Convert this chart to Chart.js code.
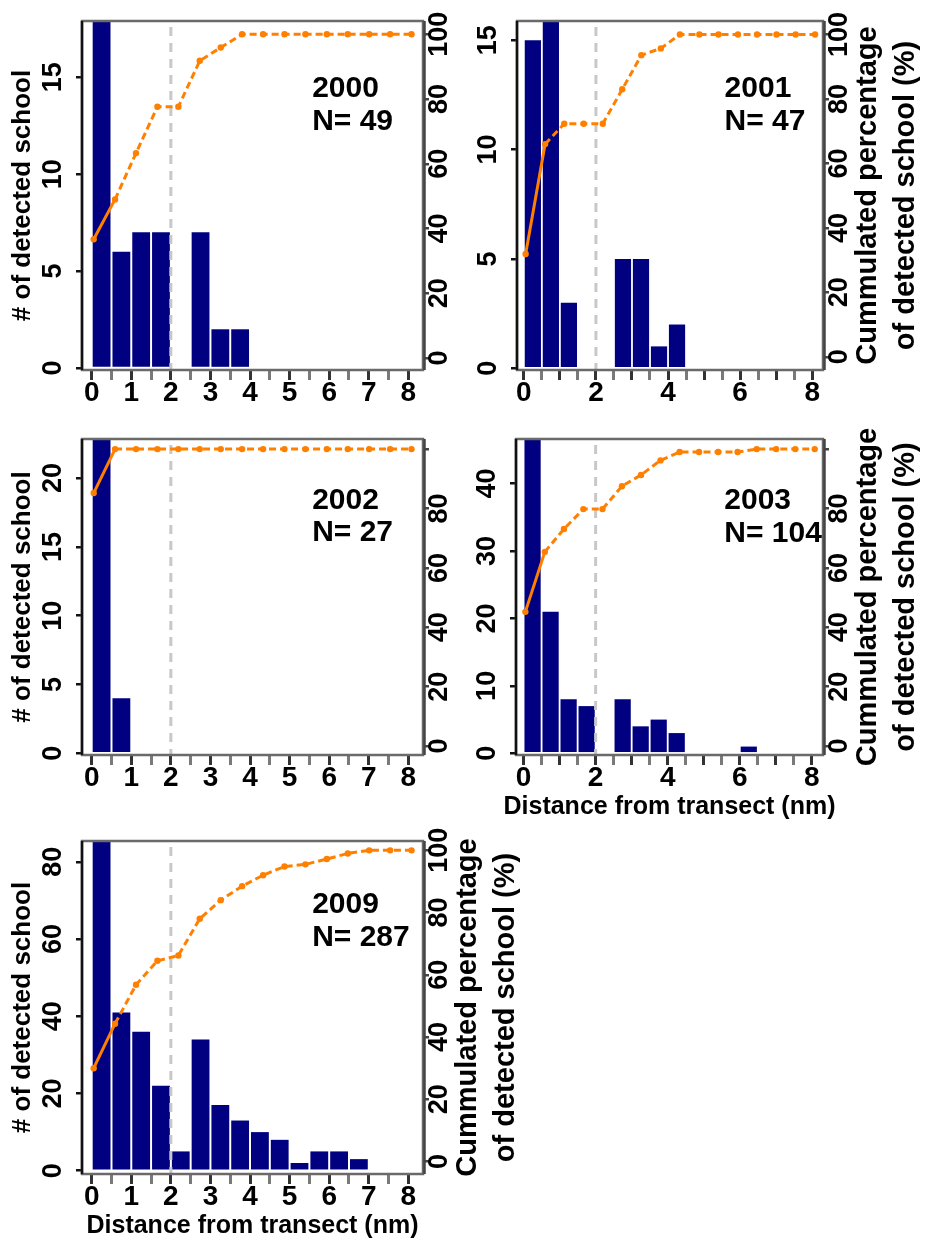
<!DOCTYPE html>
<html>
<head>
<meta charset="utf-8">
<script src="https://cdn.jsdelivr.net/npm/chart.js@4.4.1/dist/chart.umd.min.js"></script>
<style>
  html, body { margin: 0; padding: 0; background: #fff; }
  body { width: 925px; height: 1242px; position: relative; overflow: hidden; }
  canvas { position: absolute; }
</style>
</head>
<body>
<canvas id="c2000" width="462" height="410" style="left:0px;top:0px"></canvas>
<canvas id="c2001" width="463" height="410" style="left:462px;top:0px"></canvas>
<canvas id="c2002" width="462" height="410" style="left:0px;top:410px"></canvas>
<canvas id="c2003" width="463" height="410" style="left:462px;top:410px"></canvas>
<canvas id="c2009" width="525" height="422" style="left:0px;top:820px"></canvas>
<script>
// ============================
// Data
// ============================
// half-nm distance bins (bar centres) and where the cumulated points sit
const distanceBins = [0.25, 0.75, 1.25, 1.75, 2.25, 2.75, 3.25, 3.75, 4.25, 4.75, 5.25, 5.75, 6.25, 6.75, 7.25, 7.75];
const cumulX = [0.05, 0.59, 1.12, 1.66, 2.19, 2.73, 3.26, 3.8, 4.33, 4.87, 5.4, 5.94, 6.47, 7.01, 7.54, 8.08];
const transectLimit = 2;

const years = ["2000", "2001", "2002", "2003", "2009"];
const schoolTotals = [49, 47, 27, 104, 287];

const counts2000 = [18, 6, 7, 7, 0, 7, 2, 2, 0, 0, 0, 0, 0, 0, 0, 0];
const counts2001 = [15, 16, 3, 0, 0, 5, 5, 1, 2, 0, 0, 0, 0, 0, 0, 0];
const counts2002 = [23, 4, 0, 0, 0, 0, 0, 0, 0, 0, 0, 0, 0, 0, 0, 0];
const counts2003 = [47, 21, 8, 7, 0, 8, 4, 5, 3, 0, 0, 0, 1, 0, 0, 0];
const counts2009 = [86, 41, 36, 22, 5, 34, 17, 13, 10, 8, 2, 5, 5, 3, 0, 0];

const cumul2000 = [36.7, 49.0, 63.3, 77.6, 77.6, 91.8, 95.9, 100, 100, 100, 100, 100, 100, 100, 100, 100];
const cumul2001 = [31.9, 66.0, 72.3, 72.3, 72.3, 83.0, 93.6, 95.7, 100, 100, 100, 100, 100, 100, 100, 100];
const cumul2002 = [85.2, 100, 100, 100, 100, 100, 100, 100, 100, 100, 100, 100, 100, 100, 100, 100];
const cumul2003 = [45.2, 65.4, 73.1, 79.8, 79.8, 87.5, 91.3, 96.2, 99.0, 99.0, 99.0, 99.0, 100, 100, 100, 100];
const cumul2009 = [30.0, 44.3, 56.8, 64.5, 66.2, 78.0, 84.0, 88.5, 92.0, 94.8, 95.5, 97.2, 99.0, 100, 100, 100];

// tick values / labels
const xTickValues = [0, 0.5, 1, 1.5, 2, 2.5, 3, 3.5, 4, 4.5, 5, 5.5, 6, 6.5, 7, 7.5, 8];
const xLabelsAll = [0, 1, 2, 3, 4, 5, 6, 7, 8];
const xLabelsEven = [0, 2, 4, 6, 8];
const schoolTicks2000 = [0, 5, 10, 15];
const schoolTicks2001 = [0, 5, 10, 15];
const schoolTicks2002 = [0, 5, 10, 15, 20];
const schoolTicks2003 = [0, 10, 20, 30, 40];
const schoolTicks2009 = [0, 20, 40, 60, 80];
const pctTicks = [0, 20, 40, 60, 80, 100];
const pctLabelsFull = ["0", "20", "40", "60", "80", "100"];
const pctLabelsNoTop = ["0", "20", "40", "60", "80", ""];

const leftTitle = "# of detected school";
const rightTitle = ["Cummulated percentage", "of detected school (%)"];
const xTitle = "Distance from transect (nm)";

// ============================
// Panel layout
// ============================
const FONT = '"Liberation Sans", Arial, sans-serif';
const ORANGE = "#FF8000";
const NAVY = "#000080";

const panels = [
    { id: "c2000", k: 0, counts: counts2000, cumul: cumul2000, yTicks: schoolTicks2000, pctLabels: pctLabelsFull, xLabels: xLabelsAll,
      wl: 82, wr: 39, top: 21, hb: 40, xr: [-0.245, 8.37], yr: [-0.1, 17.9], pr: [-3.7, 104.1],
      textDy: [76, 109], left: true, right: false, bottom: false },
    { id: "c2001", k: 1, counts: counts2001, cumul: cumul2001, yTicks: schoolTicks2001, pctLabels: pctLabelsFull, xLabels: xLabelsEven,
      wl: 55, wr: 102, top: 21, hb: 40, xr: [-0.19, 8.3], yr: [-0.08, 15.88], pr: [-4.1, 104.2],
      textDy: [76, 109], left: false, right: true, bottom: false },
    { id: "c2002", k: 2, counts: counts2002, cumul: cumul2002, yTicks: schoolTicks2002, pctLabels: pctLabelsNoTop, xLabels: xLabelsAll,
      wl: 82, wr: 39, top: 29, hb: 65, xr: [-0.245, 8.37], yr: [-0.12, 22.84], pr: [-3.0, 103.4],
      textDy: [70, 102], left: true, right: false, bottom: false },
    { id: "c2003", k: 3, counts: counts2003, cumul: cumul2003, yTicks: schoolTicks2003, pctLabels: pctLabelsNoTop, xLabels: xLabelsEven,
      wl: 54, wr: 102, top: 29, hb: 65, xr: [-0.21, 8.31], yr: [-0.25, 46.6], pr: [-3.0, 103.4],
      textDy: [70, 103], left: false, right: true, bottom: true },
    { id: "c2009", k: 4, counts: counts2009, cumul: cumul2009, yTicks: schoolTicks2009, pctLabels: pctLabelsFull, xLabels: xLabelsAll,
      wl: 82, wr: 102, top: 21, hb: 68, xr: [-0.245, 8.37], yr: [-0.85, 85.4], pr: [-4.0, 103],
      textDy: [72, 105], left: true, right: true, bottom: true }
];

// rotated text, read bottom to top like R's axis labels
function upText(ctx, s, x, y) {
    ctx.save();
    ctx.translate(x, y);
    ctx.rotate(-Math.PI / 2);
    ctx.fillText(s, 0, 0);
    ctx.restore();
}

// ============================
// Decorations: cut-off line, box, labels, titles
// ============================
const decor = {
    id: "decor",
    afterDatasetDraw(chart, args) {
        if (args.meta.type !== "bar") return;
        const ctx = chart.ctx;
        const a = chart.chartArea;
        const px = chart.scales.x.getPixelForValue(transectLimit);
        ctx.save();
        ctx.strokeStyle = "#c8c8c8";
        ctx.lineWidth = 3;
        ctx.setLineDash([9, 7]);
        ctx.beginPath();
        ctx.moveTo(px, a.top + 6);
        ctx.lineTo(px, a.bottom);
        ctx.stroke();
        ctx.restore();
    },
    afterDraw(chart, args, opts) {
        const p = opts.panel;
        const ctx = chart.ctx;
        const a = chart.chartArea;
        const { x, y, y1 } = chart.scales;
        ctx.save();

        // box
        ctx.lineWidth = 2.5;
        ctx.strokeStyle = "#6a6a6a";
        ctx.strokeRect(a.left, a.top, a.right - a.left, a.bottom - a.top);
        ctx.strokeStyle = "#111";
        ctx.beginPath();
        ctx.moveTo(a.left, a.top);
        ctx.lineTo(a.left, a.bottom);
        ctx.stroke();
        ctx.strokeStyle = "#444";
        ctx.beginPath();
        ctx.moveTo(a.right + 1.5, a.top);
        ctx.lineTo(a.right + 1.5, a.bottom);
        ctx.stroke();

        // y tick labels
        ctx.fillStyle = "#000";
        ctx.textAlign = "center";
        ctx.textBaseline = "middle";
        ctx.font = "bold 27px " + FONT;
        p.yTicks.forEach(v => upText(ctx, String(v), a.left - 28, y.getPixelForValue(v)));
        p.pctLabels.forEach((lab, i) => upText(ctx, lab, a.right + 17, y1.getPixelForValue(pctTicks[i])));

        // year / N
        ctx.font = "bold 30px " + FONT;
        ctx.textAlign = "left";
        ctx.textBaseline = "alphabetic";
        const tx = x.getPixelForValue(5.57);
        ctx.fillText(years[p.k], tx, a.top + p.textDy[0]);
        ctx.fillText("N= " + schoolTotals[p.k], tx, a.top + p.textDy[1]);

        // axis titles
        ctx.textAlign = "center";
        ctx.textBaseline = "middle";
        const midY = (a.top + a.bottom) / 2;
        if (p.left) {
            ctx.font = "bold 26px " + FONT;
            upText(ctx, leftTitle, a.left - 59, midY);
        }
        if (p.right) {
            ctx.font = "bold 29px " + FONT;
            upText(ctx, rightTitle[0], a.right + 45, midY);
            upText(ctx, rightTitle[1], a.right + 83, midY);
        }
        if (p.bottom) {
            ctx.font = "bold 25px " + FONT;
            ctx.fillText(xTitle, (a.left + a.right) / 2, a.bottom + 52);
        }
        ctx.restore();
    }
};

// ============================
// Build panels
// ============================
panels.forEach(p => {
    const canvas = document.getElementById(p.id);

    new Chart(canvas, {
        type: "bar",
        data: {
            datasets: [
                {
                    type: "line",
                    data: cumulX.map((cx, i) => ({ x: cx, y: p.cumul[i] })),
                    yAxisID: "y1",
                    borderColor: ORANGE,
                    backgroundColor: ORANGE,
                    borderWidth: 3,
                    pointRadius: 3.2,
                    pointBorderWidth: 0,
                    tension: 0,
                    segment: {
                        borderDash: c => c.p0DataIndex === 0 ? [] : [7, 4]
                    },
                    order: 0
                },
                {
                    type: "bar",
                    data: distanceBins.map((bx, i) => ({ x: bx, y: p.counts[i] })),
                    yAxisID: "y",
                    backgroundColor: NAVY,
                    borderWidth: 0,
                    barPercentage: 0.9,
                    categoryPercentage: 1,
                    order: 1
                }
            ]
        },
        options: {
            responsive: false,
            animation: false,
            events: [],
            layout: { padding: { top: p.top, left: 0, right: 0, bottom: 0 } },
            plugins: {
                legend: { display: false },
                tooltip: { enabled: false },
                decor: { panel: p }
            },
            scales: {
                x: {
                    type: "linear",
                    position: "bottom",
                    min: p.xr[0],
                    max: p.xr[1],
                    offset: false,
                    afterBuildTicks: s => { s.ticks = xTickValues.map(v => ({ value: v })); },
                    afterFit: s => { s.height = p.hb; },
                    border: { display: false },
                    grid: {
                        offset: false,
                        drawOnChartArea: false,
                        tickLength: 10,
                        lineWidth: 3,
                        color: c => Number.isInteger(c.tick && c.tick.value) ? "#333" : "#7a7a7a"
                    },
                    ticks: {
                        autoSkip: false,
                        maxRotation: 0,
                        minRotation: 0,
                        padding: -4,
                        color: "#000",
                        font: { family: FONT, size: 28, weight: "bold" },
                        callback: v => p.xLabels.includes(v) ? String(v) : ""
                    }
                },
                y: {
                    position: "left",
                    min: p.yr[0],
                    max: p.yr[1],
                    afterBuildTicks: s => { s.ticks = p.yTicks.map(v => ({ value: v })); },
                    afterFit: s => { s.width = p.wl; },
                    border: { display: false },
                    grid: { drawOnChartArea: false, tickLength: 6, lineWidth: 2.5, color: "#111" },
                    ticks: { display: false }
                },
                y1: {
                    position: "right",
                    min: p.pr[0],
                    max: p.pr[1],
                    afterBuildTicks: s => { s.ticks = pctTicks.map(v => ({ value: v })); },
                    afterFit: s => { s.width = p.wr; },
                    border: { display: false },
                    grid: { drawOnChartArea: false, tickLength: 6, lineWidth: 2.5, color: "#444" },
                    ticks: { display: false }
                }
            }
        },
        plugins: [decor]
    });
});
</script>
</body>
</html>
